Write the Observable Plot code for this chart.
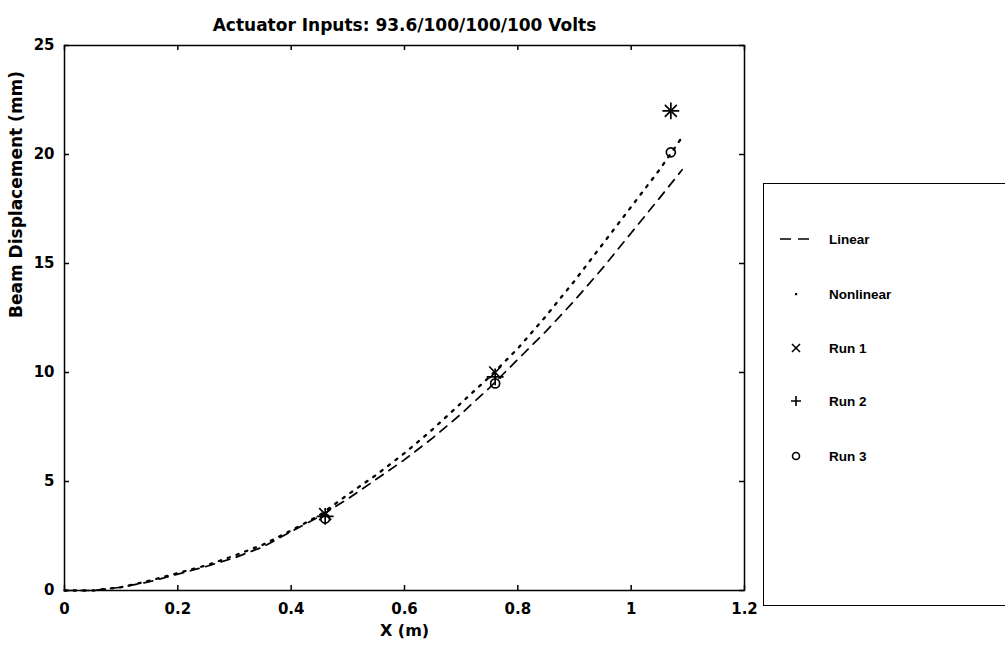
<!DOCTYPE html>
<html><head><meta charset="utf-8">
<script src="https://cdn.jsdelivr.net/npm/d3@7"></script>
<script src="https://cdn.jsdelivr.net/npm/@observablehq/plot@0.6"></script>
<style>
html,body{margin:0;padding:0;background:#fff;}
#wrap{position:relative;width:1005px;height:654px;overflow:hidden;font-family:"DejaVu Sans",Arial,sans-serif;}
#legend{position:absolute;left:763px;top:183px;width:260px;height:423px;border:1.5px solid #000;box-sizing:border-box;background:#fff;}
#legend svg{position:absolute;left:0;top:0;}
</style>
</head><body>
<div id="wrap"><div id="chart"></div><div id="legend"></div></div>
<script>
// ---- data ----
const titleText = "Actuator Inputs: 93.6/100/100/100 Volts";
const xLabel = "X (m)";
const yLabel = "Beam Displacement (mm)";
const xTicks = [0, 0.2, 0.4, 0.6, 0.8, 1, 1.2];
const yTicks = [0, 5, 10, 15, 20, 25];

const curveX     = [0, 0.05, 0.1, 0.15, 0.2, 0.25, 0.3, 0.35, 0.4, 0.45, 0.5, 0.55, 0.6, 0.65, 0.7, 0.75, 0.8, 0.85, 0.9, 0.95, 1.0, 1.05, 1.09];
const linearY    = [0, 0, 0.15, 0.4, 0.75, 1.1, 1.5, 2.0, 2.7, 3.4, 4.2, 5.1, 6.0, 7.0, 8.1, 9.3, 10.6, 11.9, 13.3, 14.8, 16.4, 18.0, 19.3];
const nonlinearY = [0, 0, 0.15, 0.45, 0.8, 1.15, 1.6, 2.1, 2.75, 3.45, 4.4, 5.3, 6.3, 7.4, 8.6, 9.8, 11.1, 12.6, 14.2, 15.9, 17.6, 19.3, 20.8];

const runX = [0.46, 0.76, 1.07];
const run1 = [3.5, 10.0, 22.0];
const run2 = [3.4, 9.8, 22.0];
const run3 = [3.3, 9.5, 20.1];

const legendLabels = ["Linear", "Nonlinear", "Run 1", "Run 2", "Run 3"];

// ---- build tables ----
const linearData = curveX.map((x, i) => ({x, y: linearY[i]}));
const nonlinearData = curveX.map((x, i) => ({x, y: nonlinearY[i]}));
const runs = [
  {name: "Run 1", symbol: "times", ys: run1},
  {name: "Run 2", symbol: "plus", ys: run2},
  {name: "Run 3", symbol: "circle", ys: run3}
];

const W = 1005, H = 654, mL = 64, mR = 261, mT = 45, mB = 64;
const plotH = H - mT - mB, plotW = W - mL - mR;
const tick = 5;
const font = "DejaVu Sans, Arial, sans-serif";

const marks = [
  Plot.frame({stroke: "#000", strokeWidth: 1.5}),
  // inward ticks on all four sides
  Plot.ruleX(xTicks, {x: d => d, insetTop: plotH - tick, stroke: "#000", strokeWidth: 1.5}),
  Plot.ruleX(xTicks, {x: d => d, insetBottom: plotH - tick, stroke: "#000", strokeWidth: 1.5}),
  Plot.ruleY(yTicks, {y: d => d, insetRight: plotW - tick, stroke: "#000", strokeWidth: 1.5}),
  Plot.ruleY(yTicks, {y: d => d, insetLeft: plotW - tick, stroke: "#000", strokeWidth: 1.5}),
  Plot.axisX(xTicks, {anchor: "bottom", tickSize: 0, tickPadding: 13, label: null, fontSize: 15, fontWeight: "bold", tickFormat: d => String(d)}),
  Plot.axisY(yTicks, {anchor: "left", tickSize: 0, tickPadding: 10, label: null, fontSize: 15, fontWeight: "bold", tickFormat: d => String(d)}),
  Plot.line(linearData, {x: "x", y: "y", stroke: "#000", strokeWidth: 1.7, strokeDasharray: "9,7"}),
  Plot.line(nonlinearData, {x: "x", y: "y", stroke: "#000", strokeWidth: 2.3, strokeDasharray: "2.3,7"}),
  ...runs.map(r => Plot.dot(runX.map((x, i) => ({x, y: r.ys[i]})), {x: "x", y: "y", symbol: r.symbol, r: r.symbol === "circle" ? 4.5 : 5.5, stroke: "#000", strokeWidth: 1.7, fill: "none"})),
  Plot.text([titleText], {frameAnchor: "top", dy: -27, fontSize: 17, fontWeight: "bold", fill: "#000"}),
  Plot.text([xLabel], {frameAnchor: "bottom", dy: 45, fontSize: 16, fontWeight: "bold", fill: "#000"}),
  Plot.text([yLabel], {frameAnchor: "left", dx: -48, rotate: -90, fontSize: 17, fontWeight: "bold", fill: "#000"})
];

const chart = Plot.plot({
  width: W, height: H,
  marginLeft: mL, marginRight: mR, marginTop: mT, marginBottom: mB,
  style: {fontFamily: font, background: "#fff", color: "#000", overflow: "visible"},
  x: {domain: [0, 1.2]},
  y: {domain: [0, 25]},
  marks
});
document.getElementById("chart").appendChild(chart);

// ---- legend ----
const lg = d3.select("#legend").append("svg").attr("width", 260).attr("height", 423);
const rowY = [55, 110, 164, 217, 272];
const symX = 32, txtX = 65;
legendLabels.forEach((lab, i) => {
  const y = rowY[i];
  const g = lg.append("g").attr("transform", `translate(0,${y})`);
  if (lab === "Linear") {
    g.append("line").attr("x1", symX - 16).attr("x2", symX + 16).attr("y1", 0).attr("y2", 0)
      .attr("stroke", "#000").attr("stroke-width", 1.7).attr("stroke-dasharray", "11,7");
  } else if (lab === "Nonlinear") {
    g.append("rect").attr("x", symX - 1).attr("y", -1).attr("width", 2.2).attr("height", 2.2).attr("fill", "#000");
  } else if (lab === "Run 1") {
    g.append("path").attr("d", `M${symX-4},-4L${symX+4},4M${symX-4},4L${symX+4},-4`).attr("stroke", "#000").attr("stroke-width", 1.6);
  } else if (lab === "Run 2") {
    g.append("path").attr("d", `M${symX-5},0L${symX+5},0M${symX},-5L${symX},5`).attr("stroke", "#000").attr("stroke-width", 1.6);
  } else {
    g.append("circle").attr("cx", symX).attr("cy", 0).attr("r", 3.5).attr("fill", "none").attr("stroke", "#000").attr("stroke-width", 1.6);
  }
  g.append("text").attr("x", txtX).attr("y", 0).attr("dy", "0.35em")
    .attr("font-family", "Liberation Sans, Arial, sans-serif").attr("font-size", 13.5).attr("font-weight", "bold").attr("fill", "#000").text(lab);
});
</script>
</body></html>
